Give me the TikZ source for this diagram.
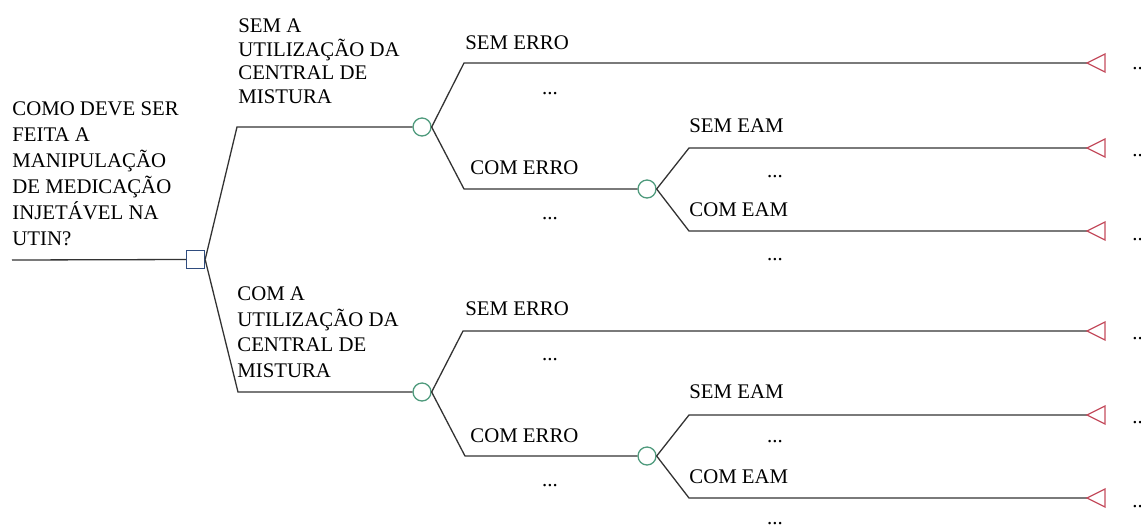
\documentclass[tikz,border=0pt]{standalone}
\usepackage{fontspec}
\setmainfont{Liberation Serif}
\usetikzlibrary{positioning}
\definecolor{TreeLine}{HTML}{333333}
\definecolor{DecBlue}{HTML}{2F4C7E}
\definecolor{ChanceGreen}{HTML}{4E9A7C}
\definecolor{EndRed}{HTML}{C44D5E}

\begin{document}
\begin{tikzpicture}[
    x=0.5pt,y=-0.5pt,
    font=\fontsize{10.4}{12.25}\selectfont,
    branch/.style={draw=TreeLine,line width=0.65pt},
    decision/.style={draw=DecBlue,line width=0.65pt,rectangle,minimum size=9pt,inner sep=0pt},
    chance/.style={draw=ChanceGreen,line width=0.65pt,circle,minimum size=9pt,inner sep=0pt},
    term/.style={draw=EndRed,line width=0.65pt},
    lbl/.style={anchor=base west,inner sep=0pt,align=left},
    dots/.style={anchor=base,inner sep=0pt}
  ]
  \useasboundingbox (0,0) rectangle (1141,527);

  % decision node and question
  \coordinate (root) at (12,260);
  \node[decision] (dec) at (195.5,259.5) {};
  \node[lbl,font=\fontsize{10.4}{13}\selectfont] (question) at (12,245)
    {COMO DEVE SER\\FEITA A\\MANIPULAÇÃO\\DE MEDICAÇÃO\\INJETÁVEL NA\\UTIN?};
  \draw[branch] (root) -- (dec.west);

  % chance nodes
  \node[chance] (c1) at (422,127) {};
  \node[chance] (c2) at (647,189) {};
  \node[chance] (c3) at (422,392) {};
  \node[chance] (c4) at (647,456) {};

  % bends and terminal points
  \coordinate (k1) at (237,127);
  \coordinate (k2) at (238,392);
  \coordinate (k11) at (464,63);
  \coordinate (k12) at (464,189);
  \coordinate (k21) at (689,148);
  \coordinate (k22) at (689,231);
  \coordinate (k31) at (463,331);
  \coordinate (k32) at (465,456);
  \coordinate (k41) at (689,415);
  \coordinate (k42) at (689,498);
  \coordinate (t1) at (1087,63);
  \coordinate (t2) at (1087,148);
  \coordinate (t3) at (1087,231);
  \coordinate (t4) at (1087,331);
  \coordinate (t5) at (1087,415);
  \coordinate (t6) at (1087,498);

  % branches
  \draw[branch] (dec.east) -- (k1) -- (c1.west);
  \draw[branch] (dec.east) -- (k2) -- (c3.west);
  \draw[branch] (c1.east) -- (k11) -- (t1);
  \draw[branch] (c1.east) -- (k12) -- (c2.west);
  \draw[branch] (c2.east) -- (k21) -- (t2);
  \draw[branch] (c2.east) -- (k22) -- (t3);
  \draw[branch] (c3.east) -- (k31) -- (t4);
  \draw[branch] (c3.east) -- (k32) -- (c4.west);
  \draw[branch] (c4.east) -- (k41) -- (t5);
  \draw[branch] (c4.east) -- (k42) -- (t6);

  % terminal triangles
  \foreach \i in {1,...,6}
    \draw[term] (t\i) -- ++(18,-9) -- ++(0,18) -- cycle;

  % labels
  \node[lbl,font=\fontsize{10.4}{11.75}\selectfont] (sem central) at (238,103)
    {SEM A\\UTILIZAÇÃO DA\\CENTRAL DE\\MISTURA};
  \node[lbl,font=\fontsize{10.4}{12.75}\selectfont] (com central) at (237,377)
    {COM A\\UTILIZAÇÃO DA\\CENTRAL DE\\MISTURA};
  \node[lbl] (sem erro1) at (465,49) {SEM ERRO};
  \node[lbl] (com erro1) at (470,174) {COM ERRO};
  \node[lbl] (sem eam1) at (689,132) {SEM EAM};
  \node[lbl] (com eam1) at (689,216) {COM EAM};
  \node[lbl] (sem erro2) at (465,315) {SEM ERRO};
  \node[lbl] (com erro2) at (470,442) {COM ERRO};
  \node[lbl] (sem eam2) at (689,398) {SEM EAM};
  \node[lbl] (com eam2) at (689,483) {COM EAM};

  % ellipses
  \node[dots] (d11) at (550,94) {...};
  \node[dots] (d12) at (550,219) {...};
  \node[dots] (d21) at (775,177) {...};
  \node[dots] (d22) at (775,260) {...};
  \node[dots] (d31) at (550,360) {...};
  \node[dots] (d32) at (550,486) {...};
  \node[dots] (d41) at (775,442) {...};
  \node[dots] (d42) at (775,524) {...};
  \node[lbl] (e1) at (1132,69) {...};
  \node[lbl] (e2) at (1132,156) {...};
  \node[lbl] (e3) at (1132,240) {...};
  \node[lbl] (e4) at (1132,339) {...};
  \node[lbl] (e5) at (1132,423) {...};
  \node[lbl] (e6) at (1132,507) {...};
\end{tikzpicture}
\end{document}
